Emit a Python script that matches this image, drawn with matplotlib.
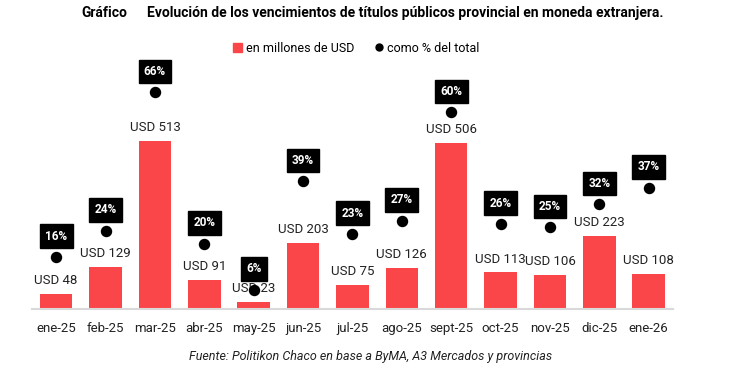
import matplotlib.pyplot as plt
from matplotlib import font_manager
from matplotlib.lines import Line2D
from matplotlib.patches import Patch
import numpy as np

meses = ["ene-25", "feb-25", "mar-25", "abr-25", "may-25", "jun-25", "jul-25",
         "ago-25", "sept-25", "oct-25", "nov-25", "dic-25", "ene-26"]
usd_millones = [48, 129, 513, 91, 23, 203, 75, 126, 506, 113, 106, 223, 108]
pct_total = [16, 24, 66, 20, 6, 39, 23, 27, 60, 26, 25, 32, 37]

disponibles = {f.name for f in font_manager.fontManager.ttflist}
narrow = "Liberation Sans Narrow" if "Liberation Sans Narrow" in disponibles else "Roboto"
plt.rcParams["font.family"] = [narrow, "DejaVu Sans"]

rojo = "#FA4648"

fig = plt.figure(figsize=(7.3, 3.81), dpi=100)
ax = fig.add_axes([0.0438, 0.1877, 0.878, 0.6024])
ax2 = ax.twinx()

x = np.arange(len(meses))
ax.bar(x, usd_millones, width=0.66, color=rojo, zorder=2)
ax.set_xlim(-0.49, len(meses) - 0.51)
ax.set_ylim(0, 697)
ax2.set_ylim(0, 69.8)

for xi, v in zip(x, usd_millones):
    ax.annotate(f"USD {v}", (xi, v), xytext=(0, 7), textcoords="offset points",
                ha="center", va="baseline", fontsize=9.5, color="#222222")

ax2.scatter(x, pct_total, s=52, color="black", zorder=3, clip_on=False)
for xi, p in zip(x, pct_total):
    ax2.annotate(f"{p}%", (xi, p), xytext=(0, 15), textcoords="offset points",
                 ha="center", va="center", fontsize=8.5, color="white",
                 fontweight="bold", annotation_clip=False,
                 bbox=dict(boxstyle="square,pad=0.45", fc="black", ec="black"))

for a in (ax, ax2):
    for s in ("top", "left", "right"):
        a.spines[s].set_visible(False)
    a.set_yticks([])
ax2.spines["bottom"].set_visible(False)
ax.spines["bottom"].set_color("#D9D9D9")
ax.spines["bottom"].set_linewidth(1.5)
ax.set_xticks(x)
ax.set_xticklabels(meses, fontsize=9.5, color="#222222")
ax.tick_params(axis="x", length=0, pad=9)

fig.text(0.112, 0.965, "Gráfico", fontsize=10, fontweight="bold", va="center")
fig.text(0.201, 0.965,
         "Evolución de los vencimientos de títulos públicos provincial en moneda extranjera.",
         fontsize=10, fontweight="bold", va="center")

handles = [Patch(color=rojo, label="en millones de USD"),
           Line2D([], [], marker="o", ls="", color="black", markersize=5,
                  label="como % del total")]
fig.legend(handles=handles, loc="center", bbox_to_anchor=(0.488, 0.874), ncol=2,
           frameon=False, fontsize=9, handlelength=0.7, handletextpad=0.3,
           columnspacing=1.6)

fig.text(0.507, 0.063, "Fuente: Politikon Chaco en base a ByMA, A3 Mercados y provincias",
         ha="center", va="center", fontsize=9, style="italic", color="#222222")

fig.savefig("out.png", dpi=100)
